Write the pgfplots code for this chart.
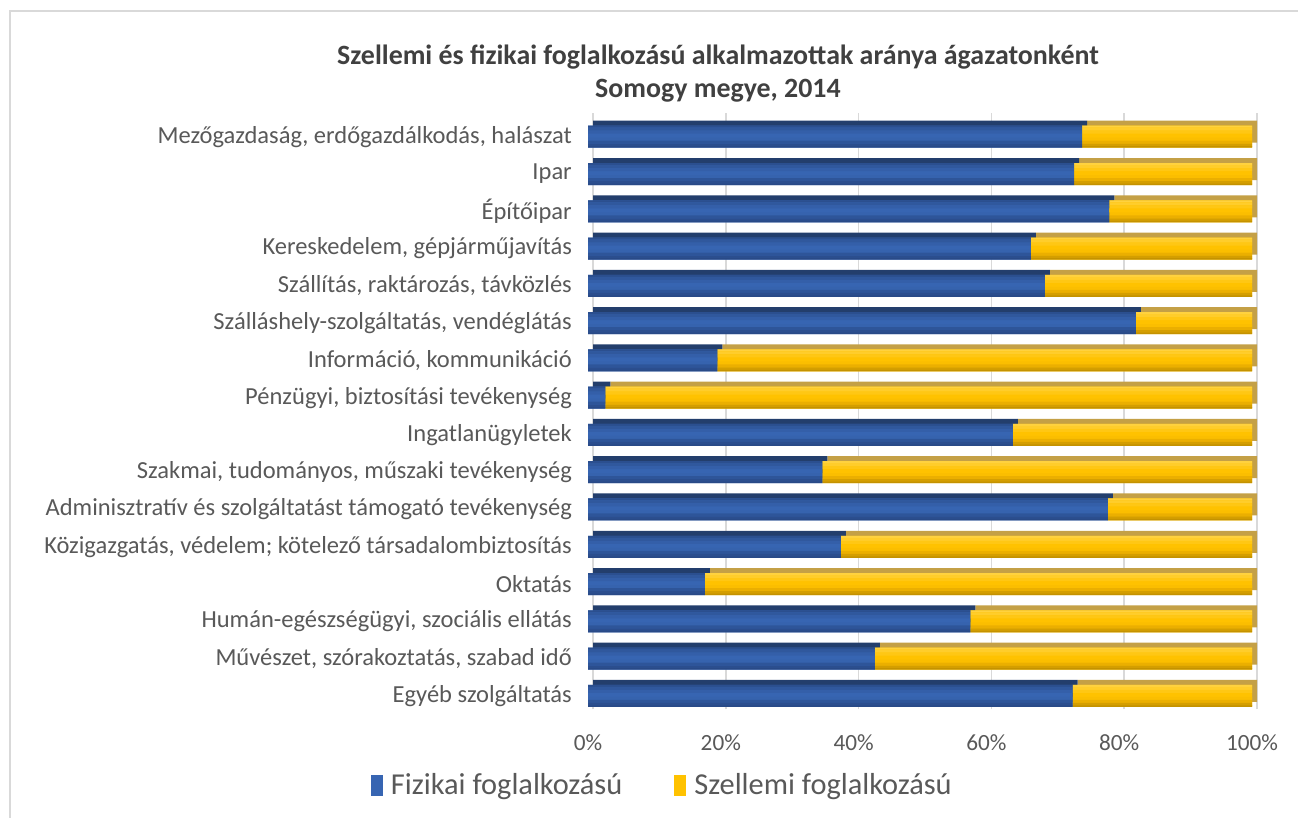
\documentclass[border=0pt]{standalone}
\usepackage{pgfplots}
\pgfplotsset{compat=1.18}
\usepackage{fontspec}
\setmainfont{Carlito}
\definecolor{txt}{HTML}{595959}
\definecolor{ttl}{HTML}{404040}
\definecolor{frame}{HTML}{D9D9D9}
\definecolor{gridc}{HTML}{D9D9D9}
\definecolor{blueback}{HTML}{233E6C}
\definecolor{yelback}{HTML}{C4A046}
\definecolor{bluemid}{HTML}{3765B2}
\definecolor{bluetop}{HTML}{2B4F8F}
\definecolor{bluebot}{HTML}{2E5599}
\definecolor{bluebot2}{HTML}{294A87}
\definecolor{yelmid}{HTML}{FFC200}
\definecolor{yeltop}{HTML}{FFD64F}
\definecolor{yelbot}{HTML}{EBAF00}
\definecolor{yelbot2}{HTML}{C49200}

\pgfplotstableread{
y fiz
15 74.4
14 73.2
13 78.5
12 66.7
11 68.8
10 82.5
9 19.5
8 2.6
7 64.0
6 35.3
5 78.3
4 38.1
3 17.6
2 57.6
1 43.2
0 73.0
}\fizdata
\pgfplotstableread{
y szel
15 25.6
14 26.8
13 21.5
12 33.3
11 31.2
10 17.5
9 80.5
8 97.4
7 36.0
6 64.7
5 21.7
4 61.9
3 82.4
2 42.4
1 56.8
0 27.0
}\szeldata

\pgfplotsset{
  common/.style={
    anchor=south west, scale only axis,
    width=664bp, height=596.4bp,
    xmin=0, xmax=100, ymin=-0.5, ymax=15.5,
    xbar stacked,
    axis line style={draw=none},
    major tick length=0pt,
  }
}
% layer: width, shift, blue colour, yellow colour
\newcommand\layer[4]{%
\begin{axis}[common, at={(588bp,103.5bp)}, xtick=\empty, ytick=\empty]
\addplot[fill=#3, draw=none, bar width=#1, bar shift=#2] table[x=fiz,y=y] {\fizdata};
\addplot[fill=#4, draw=none, bar width=#1, bar shift=#2] table[x=szel,y=y] {\szeldata};
\end{axis}}

\begin{document}
\begin{tikzpicture}
\path[use as bounding box] (0bp,0bp) rectangle (1298bp,818bp);
\fill[white] (0bp,0bp) rectangle (1298bp,818bp);
\draw[frame, line width=2bp] (10bp,0bp) -- (10bp,807bp) -- (1298bp,807bp);

% back faces (depth)
\begin{axis}[common, at={(593bp,108.5bp)},
  xtick={0,20,40,60,80,100},
  xmajorgrids, grid style={gridc, line width=1.5bp},
  xticklabels={}, ytick=\empty]
\addplot[fill=blueback, draw=none, bar width=22bp] table[x=fiz,y=y] {\fizdata};
\addplot[fill=yelback, draw=none, bar width=22bp] table[x=szel,y=y] {\szeldata};
\end{axis}

% front faces: base layer with labels and legend
\begin{axis}[common, at={(588bp,103.5bp)},
  xtick={0,20,40,60,80,100},
  ytick={0,...,15},
  yticklabels={Egyéb szolgáltatás,
    {Művészet, szórakoztatás, szabad idő},
    {Humán-egészségügyi, szociális ellátás},
    Oktatás,
    {Közigazgatás, védelem; kötelező társadalombiztosítás},
    Adminisztratív és szolgáltatást támogató tevékenység,
    {Szakmai, tudományos, műszaki tevékenység},
    Ingatlanügyletek,
    {Pénzügyi, biztosítási tevékenység},
    {Információ, kommunikáció},
    {Szálláshely-szolgáltatás, vendéglátás},
    {Szállítás, raktározás, távközlés},
    {Kereskedelem, gépjárműjavítás},
    Építőipar,
    Ipar,
    {Mezőgazdaság, erdőgazdálkodás, halászat}},
  xticklabels={0\%,20\%,40\%,60\%,80\%,100\%},
  yticklabel style={font=\fontsize{24.6}{28}\selectfont, text=txt, inner sep=0pt, xshift=-16bp},
  xticklabel style={font=\fontsize{23.3}{27}\selectfont, text=txt, inner sep=0pt, yshift=-20bp},
  legend columns=2,
  legend style={draw=none, fill=none, at={(0.112,-0.118)}, anchor=center,
    font=\fontsize{30.5}{34}\selectfont, text=txt,
    nodes={inner sep=2bp},
    /tikz/every odd column/.append style={column sep=6bp},
    /tikz/every even column/.append style={column sep=50bp}},
  legend cell align=left,
  legend image code/.code={\path[#1] (0bp,-11bp) rectangle (12bp,10bp);},
]
\addplot[fill=bluemid, draw=none, bar width=22bp] table[x=fiz,y=y] {\fizdata};
\addplot[fill=yelmid, draw=none, bar width=22bp] table[x=szel,y=y] {\szeldata};
\legend{Fizikai foglalkozású, Szellemi foglalkozású}
\end{axis}

% gradient strips
\layer{2bp}{10bp}{bluetop}{yeltop!80!yelmid}
\layer{3bp}{7.5bp}{bluetop!60!bluemid}{yeltop!55!yelmid}
\layer{3bp}{4.5bp}{bluetop!25!bluemid}{yeltop!25!yelmid}
\layer{3bp}{-2.5bp}{bluemid!85!bluebot}{yelmid!80!yelbot}
\layer{3bp}{-5.5bp}{bluebot}{yelbot}
\layer{3bp}{-8.5bp}{bluebot2!60!bluebot}{yelbot2!60!yelbot}
\layer{1.5bp}{-10.25bp}{bluebot2}{yelbot2}

\node[font=\bfseries\fontsize{28}{33}\selectfont, text=ttl, align=center] at (718bp,744bp)
  {Szellemi és fizikai foglalkozású alkalmazottak aránya ágazatonként\\Somogy megye, 2014};
\end{tikzpicture}
\end{document}
